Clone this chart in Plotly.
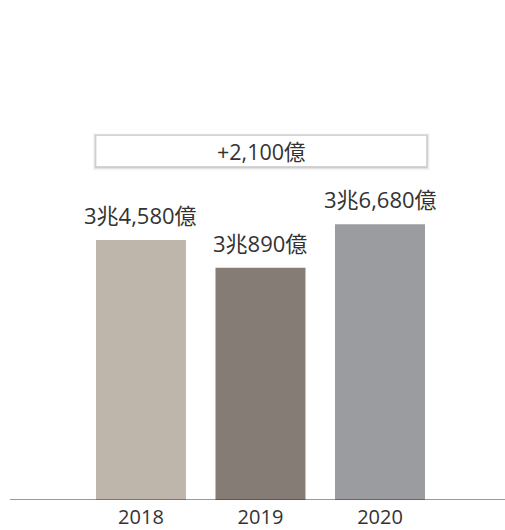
import plotly.graph_objects as go

# Annual figures in 億 (1兆 = 10,000億)
years = ["2018", "2019", "2020"]
values = [34580, 30890, 36680]
labels = ["3兆4,580億", "3兆890億", "3兆6,680億"]
colors = ["#BEB5AB", "#867C76", "#9B9CA0"]

FONT = "Open Sans, Noto Sans CJK JP, sans-serif"
TEXT = "#333333"

diff = values[-1] - values[0]
diff_text = f"+{diff:,}億"

fig = go.Figure(
    go.Bar(
        x=years,
        y=values,
        marker=dict(color=colors, line=dict(width=0)),
        width=0.753,
        hoverinfo="skip",
    )
)

# value labels above each bar (category index as x position)
annotations = [
    dict(
        x=i, y=v, xref="x", yref="y", text=lab, showarrow=False,
        yanchor="bottom", yshift=8,
        font=dict(family=FONT, size=22, color=TEXT),
    )
    for i, (v, lab) in enumerate(zip(values, labels))
]

# growth box spanning the three bars
bx0, bx1 = -0.377, 2.39
by0, by1 = 0.667, 0.729
shapes = []
for pad, alpha in [(3, 0.04), (2, 0.07), (1, 0.12)]:
    dx = pad / 119.5
    dy = pad / 502
    shapes.append(dict(
        type="rect", xref="x", yref="paper",
        x0=bx0 - dx, x1=bx1 + dx, y0=by0 - dy * 1.3, y1=by1 + dy * 0.7,
        fillcolor=f"rgba(0,0,0,{alpha})", line=dict(width=0), layer="above",
    ))
shapes.append(dict(
    type="rect", xref="x", yref="paper",
    x0=bx0, x1=bx1, y0=by0, y1=by1,
    fillcolor="white", line=dict(color="#D4D4D4", width=1), layer="above",
))
annotations.append(dict(
    x=(bx0 + bx1) / 2, y=(by0 + by1) / 2, xref="x", yref="paper",
    text=diff_text, showarrow=False, xanchor="center", yanchor="middle",
    font=dict(family=FONT, size=21.5, color=TEXT),
))

fig.update_layout(
    width=505, height=530,
    margin=dict(l=10, r=0, t=0, b=28),
    paper_bgcolor="white", plot_bgcolor="white",
    showlegend=False,
    annotations=annotations,
    shapes=shapes,
    xaxis=dict(
        type="category", range=[-1.096, 3.046],
        showgrid=False, zeroline=False,
        showline=False, ticks="",
        tickfont=dict(family=FONT, size=20, color=TEXT),
        ticklabelstandoff=3,
        fixedrange=True,
    ),
    yaxis=dict(
        range=[0, 66515], visible=False, showgrid=False, zeroline=True,
        fixedrange=True,
    ),
)

# baseline
fig.add_shape(type="line", xref="paper", yref="y", x0=0, x1=1, y0=0, y1=0,
              line=dict(color="#333333", width=1), layer="above")

fig.write_html("out.html")
